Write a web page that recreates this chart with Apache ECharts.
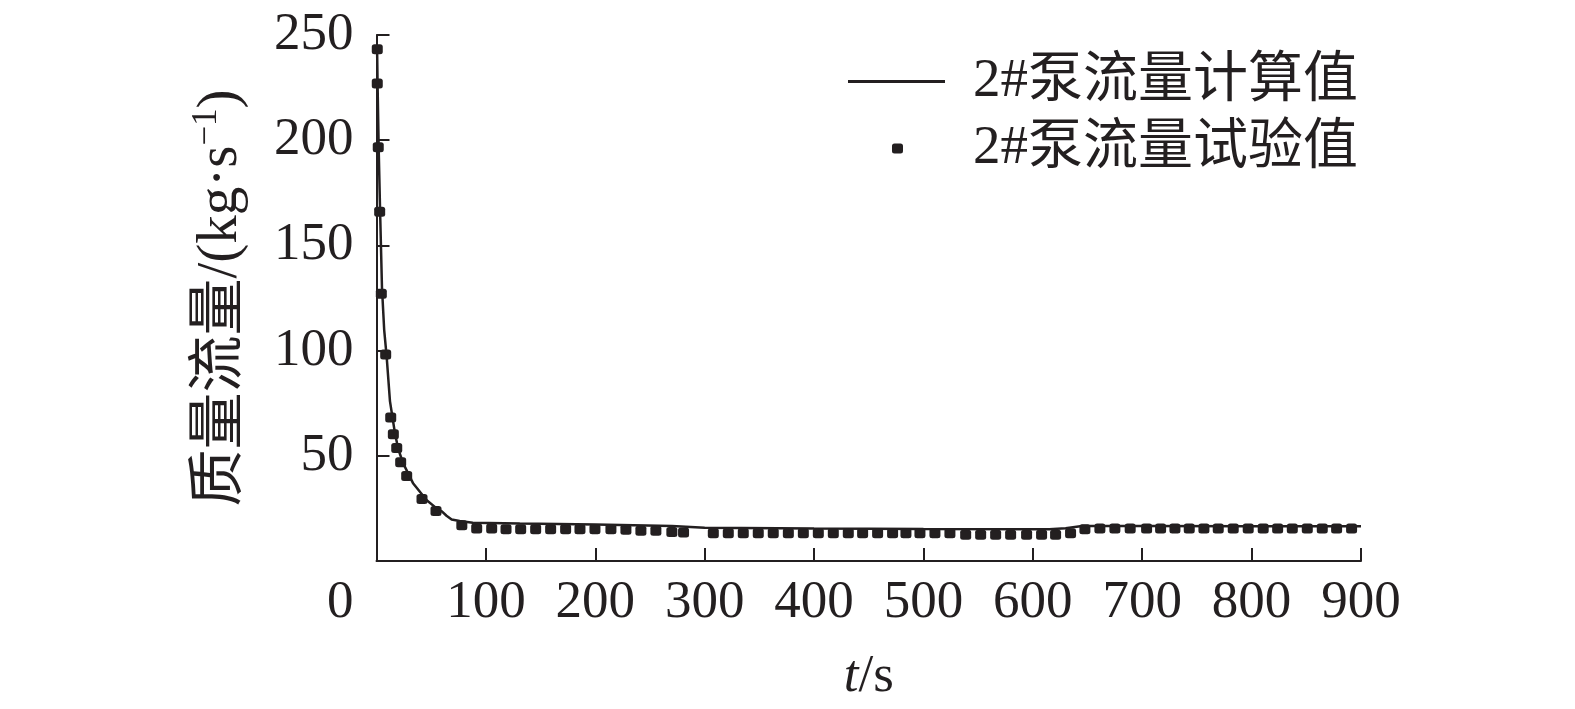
<!DOCTYPE html>
<html>
<head>
<meta charset="utf-8">
<title>2#泵流量</title>
<script src="https://cdn.jsdelivr.net/npm/echarts@6.0.0/dist/echarts.min.js"></script>
<style>
  html, body { margin: 0; padding: 0; background: #fff; }
  #chart { width: 1575px; height: 709px; }
</style>
</head>
<body>
<div id="chart"></div>
<script>
// 计算值 (solid line)
let calcTime = [0.5, 1, 2, 3.3, 5, 7, 9.3, 12.3, 16.9, 20, 24.5, 33.6, 45.9, 55, 60, 64, 68.7, 76, 88, 131, 200, 270, 300, 400, 500, 615, 630, 645, 700, 800, 900]
let calcFlow = [245, 226, 196, 166, 130, 110, 97, 76, 60.6, 53, 46.3, 36.8, 28.9, 25, 23.5, 21.5, 19.7, 19, 18.2, 17.8, 17.3, 16.6, 15.8, 15.4, 15.2, 15.1, 15.6, 16.6, 16.6, 16.5, 16.5]

// 试验值 (square markers)
let expTime = [0.7, 0.7, 1.6, 2.9, 4.4, 8.4, 13, 15.4, 18.5, 22.1, 27.6, 41.6, 54.4, 78, 91.6, 105.3, 118.4, 131.8, 145.5, 159.2, 172.9, 186, 199.7, 214.3, 228, 241.7, 255.4, 270, 280.7,
  307.9, 321.6, 335.3, 349, 362.7, 376.5, 390.2, 403.9, 417.6, 431.3, 444.4, 458.1, 471.8, 484, 496.8, 510.5, 524.2, 538.6, 552.3, 566, 579.7, 594.3, 608, 620.8, 634.5,
  647.6, 661.3, 675, 689, 704, 716.8, 729.9, 743, 756.4, 769.5, 783.2, 796.9, 810.6, 823.8, 837.2, 850.9, 864.6, 877.7, 891.4]
let expFlow = [243.2, 227, 196.6, 166, 127, 98.1, 68.2, 60.2, 53.7, 46.9, 40.4, 29.5, 23.8, 17, 15.4, 15.4, 15.1, 15.1, 15.1, 15.1, 15.1, 15.1, 15.1, 15.1, 14.8, 14.4, 14.4, 13.8, 13.5,
  13.2, 13.2, 13.2, 13.2, 13.2, 13.2, 13.2, 13.2, 13.2, 13.2, 13.2, 13.2, 13.2, 13.2, 13.2, 13.2, 13.2, 12.5, 12.5, 12.5, 12.5, 12.5, 12.5, 12.5, 13.2,
  15.1, 15.4, 15.4, 15.4, 15.4, 15.4, 15.4, 15.4, 15.4, 15.4, 15.4, 15.4, 15.4, 15.4, 15.4, 15.4, 15.4, 15.4, 15.4]

let legendNames = ['2#泵流量计算值', '2#泵流量试验值']

let ink = '#231f20'
let serif = "'Liberation Serif', 'Times New Roman', 'Noto Sans CJK SC', serif"

let chart = echarts.init(document.getElementById('chart'))

let legendText = {
  color: ink,
  fontSize: 55,
  fontFamily: serif
}

let option = {
  backgroundColor: '#fff',
  animation: false,
  grid: {
    left: 376.5,
    right: 214,
    top: 35,
    bottom: 148
  },
  legend: [
    {
      data: [{ name: legendNames[0], icon: 'rect' }],
      right: 212,
      top: 49,
      itemWidth: 97,
      itemHeight: 3,
      textStyle: Object.assign({ padding: [0, 0, 0, 23] }, legendText)
    },
    {
      data: [{ name: legendNames[1], icon: 'roundRect' }],
      right: 212,
      top: 116,
      itemWidth: 11,
      itemHeight: 10,
      textStyle: Object.assign({ padding: [0, 0, 0, 65] }, legendText)
    }
  ],
  xAxis: {
    type: 'value',
    min: 0,
    max: 900,
    interval: 100,
    name: '{i|t}/s',
    nameLocation: 'middle',
    nameGap: 90,
    nameTextStyle: {
      color: ink,
      fontSize: 53,
      fontFamily: serif,
      rich: {
        i: { fontStyle: 'italic', fontSize: 53, fontFamily: serif, color: ink }
      }
    },
    splitLine: { show: false },
    axisLine: { lineStyle: { color: ink, width: 2 } },
    axisTick: { inside: true, length: 13, lineStyle: { color: ink, width: 2 } },
    axisLabel: {
      showMinLabel: false,
      color: ink,
      fontSize: 53,
      fontFamily: serif,
      margin: 16
    }
  },
  yAxis: {
    type: 'value',
    min: 0,
    max: 250,
    interval: 50,
    name: '质量流量/(kg·s{sup|−1})',
    nameLocation: 'middle',
    nameGap: 123,
    nameTextStyle: {
      color: ink,
      fontSize: 57,
      fontFamily: serif,
      rich: {
        sup: { fontSize: 35, fontFamily: serif, color: ink, verticalAlign: 'top', padding: [0, 0, 29, 0] }
      }
    },
    splitLine: { show: false },
    axisLine: { show: true, lineStyle: { color: ink, width: 2 } },
    axisTick: { inside: true, length: 13, lineStyle: { color: ink, width: 2 } },
    axisLabel: {
      color: ink,
      fontSize: 53,
      fontFamily: serif,
      margin: 23,
      formatter: function (v) {
        return v === 0 ? '{z|0}' : String(v)
      },
      rich: {
        z: { fontSize: 53, fontFamily: serif, color: ink, padding: [84, 0, 0, 0] }
      }
    }
  },
  series: [
    {
      name: legendNames[0],
      type: 'line',
      symbol: 'none',
      lineStyle: { color: ink, width: 2.5 },
      itemStyle: { color: ink },
      data: calcTime.map((t, i) => [t, calcFlow[i]]),
      z: 3
    },
    {
      name: legendNames[1],
      type: 'scatter',
      symbol: 'roundRect',
      symbolSize: [11, 10],
      itemStyle: { color: ink, opacity: 1 },
      data: expTime.map((t, i) => [t, expFlow[i]]),
      z: 2
    }
  ]
}

chart.setOption(option)
</script>
</body>
</html>
